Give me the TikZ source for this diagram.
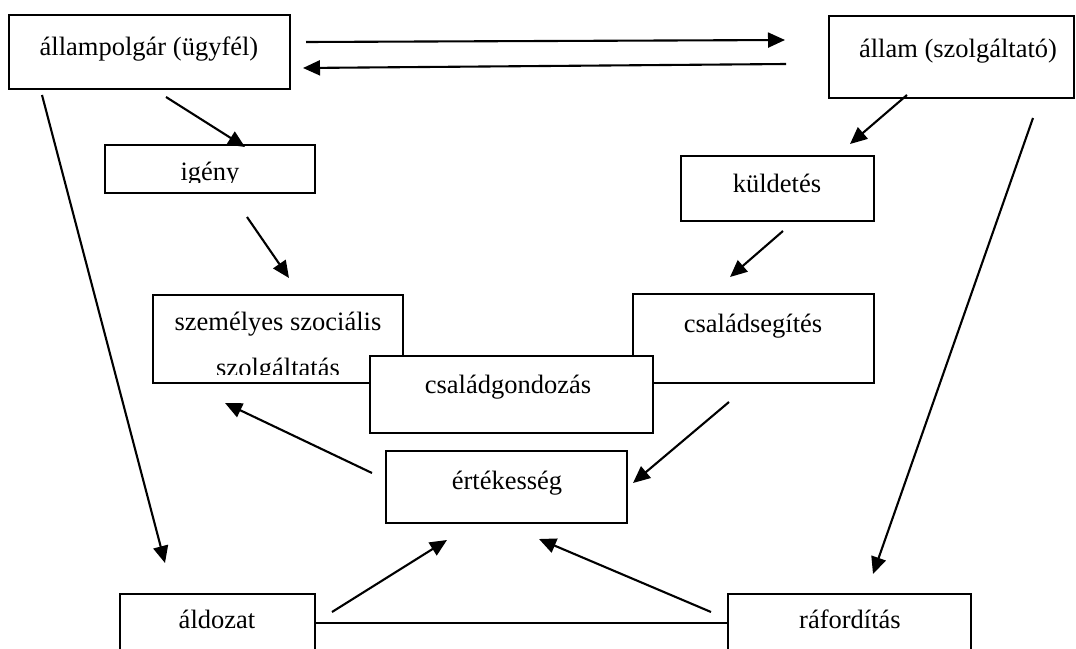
\documentclass[tikz,border=0pt]{standalone}
\usepackage{fontspec}
\setmainfont{Liberation Serif}
\usetikzlibrary{arrows.meta}
\begin{document}
\begin{tikzpicture}[x=1pt,y=-1pt,
  box/.style={draw, line width=1.9pt, fill=white, inner sep=0pt},
  lbl/.style={font=\fontsize{26.5}{32}\selectfont, inner sep=0pt, anchor=base},
  arr/.style={line width=2.1pt, -{Triangle[length=17pt,width=15pt]}},
  ln/.style={line width=1.9pt}]
\clip (0,0) rectangle (1076,648);
% boxes
\node[box, minimum width=281, minimum height=74] (ap) at (149.5,52) {};
\node[box, minimum width=245, minimum height=82] (al) at (951.5,57) {};
\node[box, minimum width=210, minimum height=48] (ig) at (210,169) {};
\node[box, minimum width=193, minimum height=65] (ku) at (777.5,188.5) {};
\node[box, minimum width=250, minimum height=88] (sz) at (278,339) {};
\node[box, minimum width=241, minimum height=89] (cs) at (753.5,338.5) {};
% texts of back boxes
\node[lbl] (tap) at (149,55) {állampolgár (ügyfél)};
\node[lbl] (tal) at (958,57) {állam (szolgáltató)};
\begin{scope}
  \clip (106,146) rectangle (314,182);
  \node[lbl] (tig) at (210,180) {igény};
\end{scope}
\node[lbl] (tku) at (777,192) {küldetés};
\node[lbl] (tsz1) at (278,330) {személyes szociális};
\begin{scope}
  \clip (154,340) rectangle (402,374.5);
  \node[lbl] (tsz2) at (278,376) {szolgáltatás};
\end{scope}
\node[lbl] (tcs) at (753,332) {családsegítés};
% front box
\node[box, minimum width=283, minimum height=77] (cg) at (511.5,394.5) {};
\node[lbl] (tcg) at (508,393) {családgondozás};
\node[box, minimum width=241, minimum height=72] (er) at (506.5,487) {};
\node[lbl] (ter) at (507,489) {értékesség};
\node[box, minimum width=195, minimum height=76] (ad) at (217.5,632) {};
\node[lbl] (tad) at (217,628) {áldozat};
\node[box, minimum width=243, minimum height=76] (rf) at (849.5,632) {};
\node[lbl] (trf) at (850,628) {ráfordítás};
% connector end points
\coordinate (a1s) at (306,42);   \coordinate (a1e) at (785,40);
\coordinate (a2s) at (786,64);   \coordinate (a2e) at (303,68);
\coordinate (a3s) at (166,97);   \coordinate (a3e) at (245,147);
\coordinate (a4s) at (42,95);    \coordinate (a4e) at (165,563);
\coordinate (a5s) at (907,95);   \coordinate (a5e) at (850,144);
\coordinate (a6s) at (1033,118); \coordinate (a6e) at (873,574);
\coordinate (a7s) at (247,217);  \coordinate (a7e) at (289,278);
\coordinate (a8s) at (783,231);  \coordinate (a8e) at (730,277);
\coordinate (a9s) at (372,473);  \coordinate (a9e) at (225,403);
\coordinate (a10s) at (729,402); \coordinate (a10e) at (633,483);
\coordinate (a11s) at (332,612); \coordinate (a11e) at (447,540);
\coordinate (a12s) at (711,612); \coordinate (a12e) at (539,539);
\coordinate (lnk) at (0,623);
% connectors
\draw[arr] (a1s) -- (a1e);
\draw[arr] (a2s) -- (a2e);
\draw[arr] (a3s) -- (a3e);
\draw[arr] (a4s) -- (a4e);
\draw[arr] (a5s) -- (a5e);
\draw[arr] (a6s) -- (a6e);
\draw[arr] (a7s) -- (a7e);
\draw[arr] (a8s) -- (a8e);
\draw[arr] (a9s) -- (a9e);
\draw[arr] (a10s) -- (a10e);
\draw[arr] (a11s) -- (a11e);
\draw[arr] (a12s) -- (a12e);
\draw[ln] (ad.east |- lnk) -- (rf.west |- lnk);
\end{tikzpicture}
\end{document}
